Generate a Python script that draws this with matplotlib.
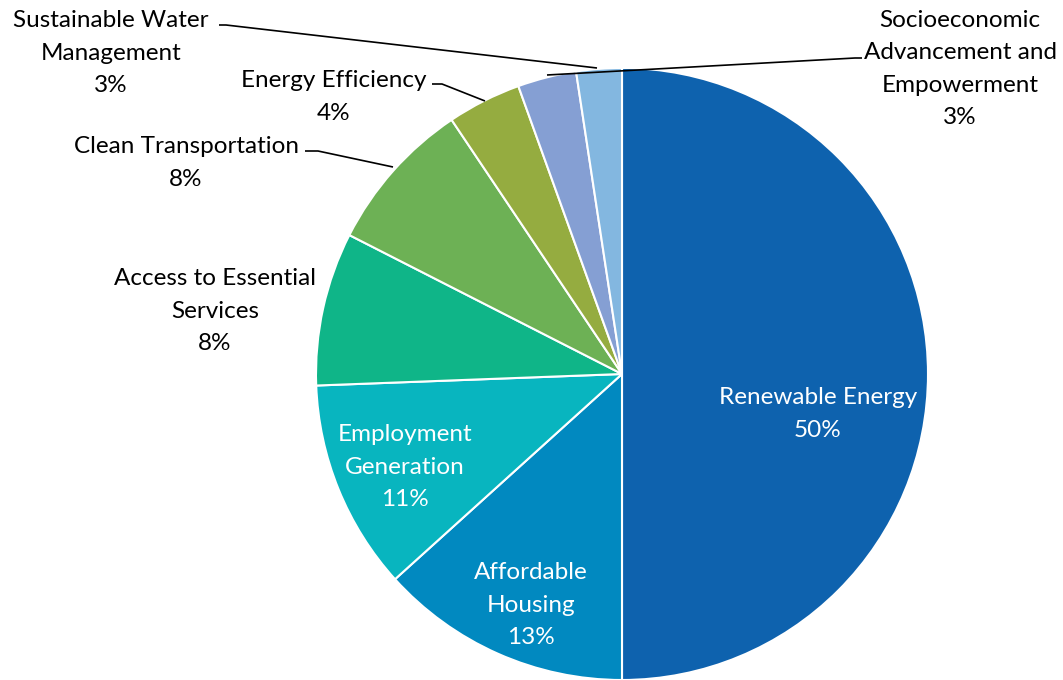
import matplotlib
matplotlib.use("Agg")
import matplotlib.pyplot as plt

categories = ["Renewable Energy", "Affordable Housing", "Employment Generation",
              "Access to Essential Services", "Clean Transportation", "Energy Efficiency",
              "Sustainable Water Management", "Socioeconomic Advancement and Empowerment"]
values = [50.0, 13.3, 11.1, 8.1, 8.1, 3.9, 3.1, 2.4]
pct_labels = ["50%", "13%", "11%", "8%", "8%", "4%", "3%", "3%"]
label_text = ["Renewable Energy", "Affordable\nHousing", "Employment\nGeneration",
              "Access to Essential\nServices", "Clean Transportation", "Energy Efficiency",
              "Sustainable Water\nManagement", "Socioeconomic\nAdvancement and\nEmpowerment"]
colors = ["#0E62AE", "#0189C0", "#08B5BF", "#0FB588", "#6DB155", "#95AC40", "#859FD3", "#83B7E0"]

W, H = 1063, 680
CX, CY, R = 622, 374, 306

def px(x, y):
    return ((x - CX) / R, (CY - y) / R)

fig = plt.figure(figsize=(W / 100, H / 100), dpi=100)
ax = fig.add_axes([0, 0, 1, 1])
ax.pie(values, colors=colors, startangle=90, counterclock=False, radius=1,
       wedgeprops=dict(edgecolor="white", linewidth=1.5))
ax.set_xlim(-CX / R, (W - CX) / R)
ax.set_ylim((CY - H) / R, CY / R)
ax.set_aspect("equal")
ax.axis("off")

# label centers (pixel coords of middle of text block) and colors
label_pos = [(818, 414), (531, 605), (405, 467), (215, 311), (186, 163),
             (334, 97), (111, 53), (960, 69)]
text_colors = ["white", "white", "white", "black", "black", "black", "black", "black"]
FONT = "Lato"
FS = 17.5
for txt, pct, pos, tc in zip(label_text, pct_labels, label_pos, text_colors):
    x, y = px(*pos)
    ax.text(x, y, txt + "\n" + pct, ha="center", va="center", color=tc,
            fontsize=FS, family=FONT, linespacing=1.66)

# leader lines (pixel coords)
leaders = [
    [(305, 151), (318, 151), (393, 167)],
    [(432, 84), (442, 84), (485, 101)],
    [(219, 25), (226, 25), (597, 68)],
    [(862, 58), (855, 58), (547, 75)],
]
for pts in leaders:
    xs, ys = zip(*[px(*p) for p in pts])
    ax.plot(xs, ys, color="black", lw=1.2, solid_capstyle="butt")

fig.savefig("out.png", dpi=100)
